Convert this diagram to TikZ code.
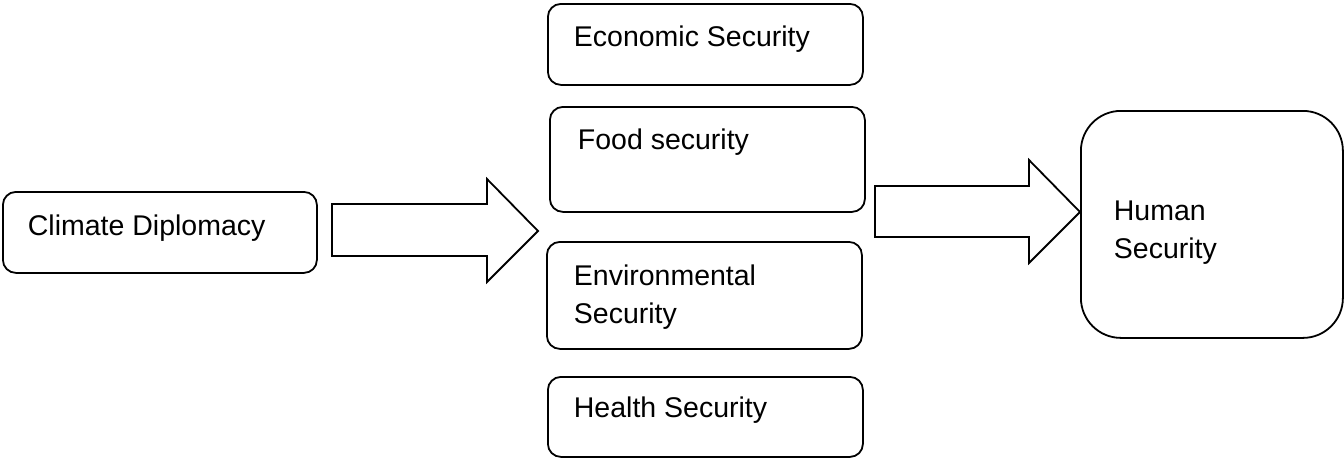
\documentclass[tikz,border=0pt]{standalone}
\usepackage{fontspec}
\setmainfont{Liberation Sans}
\begin{document}
\begin{tikzpicture}[x=1pt,y=-1pt,
  line width=1.8pt,
  box/.style={draw, rounded corners=13pt, inner sep=0pt, anchor=north west},
  bigbox/.style={box, rounded corners=40pt},
  txt/.style={anchor=base west, inner sep=0pt, align=left,
    font=\fontsize{28.5}{38}\selectfont},
  blockarrow/.style={draw, line join=miter, fill=white}]
\useasboundingbox (0,0) rectangle (1344,458);

% outline boxes
\node[box, minimum width=314pt, minimum height=81pt]  (clim) at (2,191) {};
\node[box, minimum width=315pt, minimum height=81pt]  (econ) at (547,3) {};
\node[box, minimum width=315pt, minimum height=105pt] (food) at (549,106) {};
\node[box, minimum width=315pt, minimum height=107pt] (env)  at (546,241) {};
\node[box, minimum width=315pt, minimum height=80pt]  (health) at (547,376) {};
\node[bigbox, minimum width=262pt, minimum height=227pt] (human) at (1080,110) {};

% labels (two-line labels are anchored at the baseline of their last line)
\node[txt] (climT)   at (27,235)   {Climate Diplomacy};
\node[txt] (econT)   at (573,46)   {Economic Security};
\node[txt] (foodT)   at (577,149)  {Food security};
\node[txt] (envT)    at (573,323)  {Environmental\\Security};
\node[txt] (healthT) at (573,417)  {Health Security};
\node[txt] (humanT)  at (1113,258) {Human\\Security};

% block arrows
\draw[blockarrow] (332,204) -- (487,204) -- (487,179) -- (538,231)
  -- (487,282) -- (487,256) -- (332,256) -- cycle;
\draw[blockarrow] (875,186) -- (1029,186) -- (1029,160) -- (1080,212)
  -- (1029,263) -- (1029,237) -- (875,237) -- cycle;
\end{tikzpicture}
\end{document}
